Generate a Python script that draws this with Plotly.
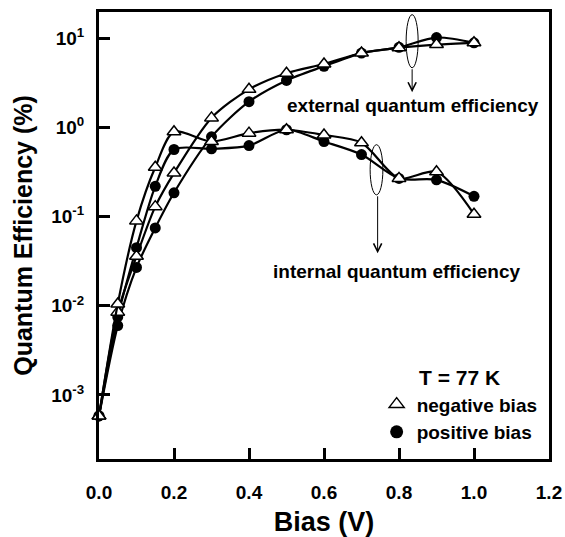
import plotly.graph_objects as go

bias = [0.0, 0.05, 0.1, 0.15, 0.2, 0.3, 0.4, 0.5, 0.6, 0.7, 0.8, 0.9, 1.0]
ext_neg = [5.8e-4, 0.0085, 0.036, 0.13, 0.31, 1.29, 2.7, 4.1, 5.2, 6.9, 7.9, 8.6, 9.0]
ext_pos = [5.8e-4, 0.006, 0.027, 0.075, 0.186, 0.79, 1.96, 3.4, 4.9, 6.9, 8.0, 10.3, 9.0]
int_neg = [5.8e-4, 0.0105, 0.09, 0.36, 0.90, 0.70, 0.87, 0.95, 0.83, 0.68, 0.27, 0.32, 0.107]
int_pos = [5.8e-4, 0.0075, 0.045, 0.22, 0.57, 0.58, 0.63, 0.95, 0.70, 0.50, 0.27, 0.26, 0.17]

x_ticks = [0.0, 0.2, 0.4, 0.6, 0.8, 1.0, 1.2]
x_ticktext = ["0.0", "0.2", "0.4", "0.6", "0.8", "1.0", "1.2"]
y_ticks = [1e-3, 1e-2, 1e-1, 1e0, 1e1]
y_ticktext = ["10<sup>-3</sup>", "10<sup>-2</sup>", "10<sup>-1</sup>", "10<sup>0</sup>", "10<sup>1</sup>"]

FONT = "Liberation Sans, Arial, sans-serif"
tri = dict(symbol="triangle-up", size=12, color="white", line=dict(color="black", width=1.5))
dot = dict(symbol="circle", size=11, color="black", line=dict(color="black", width=0))
line = dict(color="black", width=2.2, shape="spline", smoothing=0.8)

fig = go.Figure()
for ys, mk in [(ext_pos, dot), (int_pos, dot), (ext_neg, tri), (int_neg, tri)]:
    fig.add_trace(go.Scatter(x=bias, y=ys, mode="lines+markers", line=line,
                             marker=mk, showlegend=False, cliponaxis=False))

fig.add_trace(go.Scatter(x=[None], y=[None], mode="markers", marker=dict(tri, size=13),
                         name="negative bias"))
fig.add_trace(go.Scatter(x=[None], y=[None], mode="markers", marker=dict(dot, size=13),
                         name="positive bias"))

# ellipses marking curve groups
fig.add_shape(type="circle", xref="x", yref="y", x0=0.819, x1=0.851,
              y0=10 ** 0.674, y1=10 ** 1.27, line=dict(color="black", width=1))
fig.add_shape(type="circle", xref="x", yref="y", x0=0.723, x1=0.757,
              y0=10 ** -0.753, y1=10 ** -0.19, line=dict(color="black", width=1))

# arrows (annotation positions on a log axis are given in log10 units)
fig.add_annotation(x=0.835, y=0.40, ax=0.835, ay=0.674, xref="x", yref="y",
                   axref="x", ayref="y", text="", showarrow=True, arrowhead=5,
                   arrowsize=1.6, arrowwidth=1, arrowcolor="black")
fig.add_annotation(x=0.743, y=-1.41, ax=0.743, ay=-0.753, xref="x", yref="y",
                   axref="x", ayref="y", text="", showarrow=True, arrowhead=5,
                   arrowsize=1.6, arrowwidth=1, arrowcolor="black")

fig.add_annotation(x=0.836, y=0.247, xref="x", yref="y",
                   text="external quantum efficiency", showarrow=False,
                   font=dict(family=FONT, size=19, color="black", weight="bold"))
fig.add_annotation(x=0.793, y=-1.618, xref="x", yref="y",
                   text="internal quantum efficiency", showarrow=False,
                   font=dict(family=FONT, size=19, color="black", weight="bold"))

fig.update_layout(
    width=565, height=537,
    margin=dict(l=99, r=16, t=12, b=78),
    paper_bgcolor="white", plot_bgcolor="white",
    font=dict(family=FONT, color="black"),
    legend=dict(x=0.617, y=0.226, xanchor="left", yanchor="top",
                bgcolor="rgba(0,0,0,0)",
                title=dict(text="T = 77 K", side="top center",
                           font=dict(family=FONT, size=21, color="black", weight="bold")),
                font=dict(family=FONT, size=19, color="black", weight="bold")),
    xaxis=dict(range=[0, 1.2], tickvals=x_ticks, ticktext=x_ticktext, automargin=False,
               showline=True, linewidth=3, linecolor="black", mirror=True,
               ticks="inside", ticklen=11, tickwidth=3, tickcolor="black",
               showgrid=False, zeroline=False, ticklabelstandoff=14,
               tickfont=dict(family=FONT, size=19, color="black", weight="bold"),
               title=dict(text="Bias (V)", standoff=14,
                          font=dict(family=FONT, size=27, color="black", weight="bold"))),
    yaxis=dict(type="log", range=[-3.72, 1.30], tickvals=y_ticks, ticktext=y_ticktext,
               automargin=False,
               showline=True, linewidth=3, linecolor="black", mirror=True,
               ticks="inside", ticklen=11, tickwidth=3, tickcolor="black",
               showgrid=False, zeroline=False, ticklabelstandoff=8,
               tickfont=dict(family=FONT, size=19, color="black", weight="bold"),
               title=dict(text="Quantum Efficiency (%)", standoff=12,
                          font=dict(family=FONT, size=25, color="black", weight="bold"))),
)

fig.write_html("out.html")
